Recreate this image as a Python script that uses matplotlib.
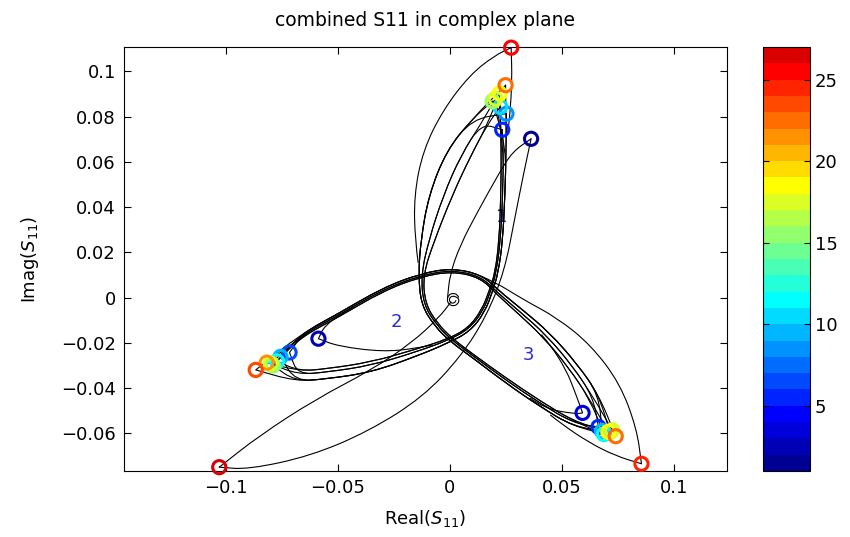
import numpy as np
import matplotlib
matplotlib.use("Agg")
import matplotlib.pyplot as plt
from matplotlib.path import Path
from matplotlib.patches import PathPatch
from matplotlib.colors import Normalize, ListedColormap
from matplotlib.cm import ScalarMappable
from matplotlib.ticker import FuncFormatter

plt.rcParams['font.family'] = 'DejaVu Sans'
plt.rcParams['font.size'] = 13
plt.rcParams['mathtext.fontset'] = 'dejavusans'

# ---- marker circles at the three resonance tips (index k = colour) ----
k1 = [1, 5, 8, 10, 15, 17, 18, 22, 25]
k2 = [2, 6, 9, 11, 15, 17, 21, 23, 26]
k3 = [3, 5, 9, 11, 15, 17, 18, 22, 24]
tip1 = [0.0363+0.0702j, 0.0234+0.0742j, 0.0253+0.0813j, 0.0225+0.0843j, 0.0191+0.0868j,
        0.0204+0.0880j, 0.0222+0.0902j, 0.0249+0.0939j, 0.0274+0.1105j]
tip2 = [-0.0587-0.0182j, -0.0716-0.0243j, -0.0756-0.0262j, -0.0772-0.0282j, -0.0790-0.0300j,
        -0.0800-0.0292j, -0.0818-0.0288j, -0.0867-0.0320j, -0.1030-0.0750j]
tip3 = [0.0593-0.0510j, 0.0664-0.0572j, 0.0680-0.0590j, 0.0689-0.0604j, 0.0715-0.0595j,
        0.0726-0.0587j, 0.0708-0.0594j, 0.0741-0.0613j, 0.0856-0.0735j]

# ---- S11 trajectory samples between the tips (three strands of the bundle) ----
seg12_a = [0.0240+0.066j, 0.0236+0.045j, 0.0226+0.025j, 0.0207+0.011j, 0.0183+0.003j,
           0.0148-0.006j, 0.0085-0.0140j, -0.0010-0.0190j, -0.015-0.0240j,
           -0.035-0.0300j, -0.055-0.0330j, -0.068-0.0340j]
seg12_b = [0.0252+0.066j, 0.0246+0.045j, 0.0236+0.025j, 0.0216+0.011j, 0.0192+0.003j,
           0.0156-0.0065j, 0.0090-0.0150j, -0.0010-0.0202j, -0.015-0.0260j,
           -0.035-0.0330j, -0.055-0.0360j, -0.069-0.0370j]
seg12_c = [0.0230+0.066j, 0.0228+0.045j, 0.0220+0.025j, 0.0202+0.011j, 0.0178+0.0035j,
           0.0143-0.0055j, 0.0082-0.0135j, -0.0010-0.0184j, -0.015-0.0228j,
           -0.035-0.0285j, -0.055-0.0315j, -0.067-0.0325j]
seg23_a = [-0.066-0.0165j, -0.050-0.0080j, -0.030+0.0035j, -0.013+0.0098j, 0.001+0.0122j,
           0.014+0.0093j, 0.0215+0.0020j, 0.031-0.0060j, 0.043-0.0165j, 0.055-0.0305j,
           0.064-0.0440j]
seg23_b = [-0.066-0.0158j, -0.050-0.0072j, -0.030+0.0043j, -0.013+0.0106j, 0.001+0.0130j,
           0.0145+0.0100j, 0.0222+0.0028j, 0.0322-0.0052j, 0.0445-0.0155j, 0.0570-0.0295j,
           0.0665-0.0430j]
seg23_c = [-0.066-0.0172j, -0.050-0.0088j, -0.030+0.0028j, -0.013+0.0092j, 0.001+0.0116j,
           0.0137+0.0088j, 0.0210+0.0014j, 0.0302-0.0068j, 0.0418-0.0175j, 0.0535-0.0315j,
           0.0625-0.0450j]
seg31_a = [0.055-0.0555j, 0.040-0.0465j, 0.025-0.0365j, 0.010-0.0255j, 0.0005-0.0185j,
           -0.0060-0.0120j, -0.0118-0.0030j, -0.0128+0.0100j, -0.0095+0.0250j,
           -0.0030+0.0450j, 0.0050+0.0630j, 0.0140+0.0770j]
seg31_b = [0.055-0.0570j, 0.040-0.0480j, 0.025-0.0378j, 0.010-0.0265j, 0.0000-0.0193j,
           -0.0068-0.0126j, -0.0128-0.0032j, -0.0140+0.0100j, -0.0130+0.0250j,
           -0.0095+0.0450j, -0.0015+0.0650j, 0.0100+0.0790j]
seg31_c = [0.055-0.0545j, 0.040-0.0455j, 0.025-0.0355j, 0.010-0.0248j, 0.0010-0.0180j,
           -0.0055-0.0115j, -0.0110-0.0028j, -0.0120+0.0100j, -0.0070+0.0250j,
           0.0010+0.0450j, 0.0090+0.0620j, 0.0165+0.0760j]
strand = ['a', 'b', 'c', 'b', 'a', 'c', 'b']   # bundle curves, circles 2..8

# single traces that leave the bundle
spiral = [0.0043-0.0009j, 0.0035+0.0012j, 0.0015+0.0020j, -0.0005+0.0012j, -0.0013-0.0009j,
          -0.0005-0.0030j, 0.0015-0.0038j, 0.0035-0.0030j, 0.0043-0.0009j, 0.0030+0.0002j,
          0.0015+0.0007j, 0.0002+0.0002j, -0.0003-0.0009j, 0.0002-0.0022j, 0.0015-0.0026j,
          0.0026-0.0018j, 0.0028-0.0009j]
navy_stem = [-0.0010+0.0000j, -0.0010+0.0000j, 0.0000+0.0100j, 0.0045+0.0230j, 0.0130+0.0390j,
             0.0220+0.0550j, 0.0280+0.0645j, 0.0363+0.0702j, 0.0363+0.0702j]
long_arc = [0.0363+0.0702j, 0.0363+0.0702j, 0.0330+0.0550j, 0.0290+0.0350j, 0.0245+0.0120j,
            0.0165-0.0080j, 0.0050-0.0260j, -0.0120-0.0440j, -0.0360-0.0590j,
            -0.0620-0.0700j, -0.0900-0.0760j, -0.1030-0.0750j, -0.1030-0.0750j]
red_stem = [-0.1030-0.0750j, -0.1030-0.0750j, -0.0850-0.0610j, -0.0600-0.0450j, -0.0350-0.0320j,
            -0.0170-0.0200j, -0.0050-0.0090j, 0.0005-0.0020j, 0.0005-0.0020j]
red_lobe1 = [-0.0128+0.0060j, -0.0155+0.0250j, -0.0160+0.0450j, -0.0120+0.0650j,
             -0.0030+0.0830j, 0.0090+0.0985j, 0.0200+0.1070j, 0.0274+0.1105j, 0.0274+0.1105j,
             0.0278+0.0960j, 0.0268+0.0800j, 0.0250+0.0650j]
red_lobe3 = [0.0080+0.0118j, 0.0200+0.0070j, 0.0330-0.0010j, 0.0480-0.0090j, 0.0630-0.0210j,
             0.0760-0.0380j, 0.0835-0.0580j, 0.0856-0.0735j, 0.0856-0.0735j, 0.0740-0.0700j,
             0.0620-0.0640j, 0.0500-0.0560j, 0.0400-0.0480j]
navy_lobe2 = [-0.0010-0.0195j, -0.0150-0.0225j, -0.0300-0.0240j, -0.0500-0.0215j,
              -0.0587-0.0182j, -0.0587-0.0182j, -0.0560-0.0125j, -0.0480-0.0070j,
              -0.0380-0.0010j]
navy_lobe3 = [0.0300-0.0400j, 0.0420-0.0490j, 0.0560-0.0515j, 0.0593-0.0510j, 0.0593-0.0510j,
              0.0560-0.0420j, 0.0520-0.0320j, 0.0450-0.0210j, 0.0370-0.0120j]


def matlab_jet(m):
    # same construction as MATLAB's jet(m)
    n = int(np.ceil(m / 4))
    u = np.concatenate([np.arange(1, n + 1) / n, np.ones(n - 1), np.arange(n, 0, -1) / n])
    g = int(np.ceil(n / 2)) - (1 if m % 4 == 1 else 0) + np.arange(1, len(u) + 1)
    rgb = np.zeros((m, 3))
    for ch, idx in enumerate([g + n, g, g - n]):
        ok = (idx >= 1) & (idx <= m)
        rgb[idx[ok] - 1, ch] = u[ok]
    return ListedColormap(rgb)


def smooth_path(pts):
    # quadratic spline with the samples as control polygon
    pts = np.asarray(pts)
    xy = np.column_stack([pts.real, pts.imag])
    mids = (xy[:-1] + xy[1:]) / 2
    verts = [mids[0]]
    codes = [Path.MOVETO]
    for i in range(1, len(xy) - 1):
        verts += [xy[i], mids[i]]
        codes += [Path.CURVE3, Path.CURVE3]
    return Path(verts, codes)


def draw_trace(ax, pts, lw=0.8):
    ax.add_patch(PathPatch(smooth_path(pts), fill=False, edgecolor='black',
                           lw=lw, zorder=2, capstyle='round', joinstyle='round'))


fig = plt.figure(figsize=(8.5, 5.37), dpi=100)
ax = fig.add_axes([0.146, 0.1229, 0.709, 0.7896])

segs = {'a': (seg12_a, seg23_a, seg31_a), 'b': (seg12_b, seg23_b, seg31_b),
        'c': (seg12_c, seg23_c, seg31_c)}
for i, side in enumerate(strand):
    t1, t2, t3 = tip1[i + 1], tip2[i + 1], tip3[i + 1]
    s12, s23, s31 = segs[side]
    loop = [t1, t1] + s12 + [t2, t2] + s23 + [t3, t3] + s31 + [t1, t1]
    draw_trace(ax, loop)

for trace in [spiral, navy_stem, long_arc, red_stem, red_lobe1, red_lobe3,
              navy_lobe2, navy_lobe3]:
    draw_trace(ax, trace)

cmap = matlab_jet(26)
norm = Normalize(1, 27)
for tips, ks in ((tip1, k1), (tip2, k2), (tip3, k3)):
    tips = np.array(tips)
    cols = cmap(np.array(ks) - 1)
    ax.scatter(tips.real, tips.imag, s=90, facecolors='none', edgecolors=cols,
               linewidths=2.2, zorder=3, clip_on=False)

lobe_color = '#2a2ad0'
ax.text(0.0232, 0.0356, '1', color='#1a1a90', fontsize=13, ha='center', va='center', zorder=1)
ax.text(-0.0240, -0.0107, '2', color=lobe_color, fontsize=13, ha='center', va='center', zorder=1)
ax.text(0.0353, -0.0253, '3', color=lobe_color, fontsize=13, ha='center', va='center', zorder=1)

ax.set_xlim(-0.1455, 0.1237)
ax.set_ylim(-0.0767, 0.1108)
ax.set_xticks([-0.1, -0.05, 0, 0.05, 0.1])
ax.set_yticks([-0.06, -0.04, -0.02, 0, 0.02, 0.04, 0.06, 0.08, 0.1])
fmt = FuncFormatter(lambda v, p: ('%g' % round(v, 4)).replace('-', '\u2212'))
ax.xaxis.set_major_formatter(fmt)
ax.yaxis.set_major_formatter(fmt)
ax.tick_params(direction='in', top=True, right=True, length=5, width=0.8, labelsize=13, pad=6)
for sp in ax.spines.values():
    sp.set_linewidth(0.8)

ax.set_title('combined S11 in complex plane', fontsize=13.5, pad=15)
ax.set_xlabel('Real($S_{11}$)', fontsize=13, labelpad=8)
ax.set_ylabel('Imag($S_{11}$)', fontsize=13, labelpad=14)

cax = fig.add_axes([0.8976, 0.1229, 0.0553, 0.7896])
cb = fig.colorbar(ScalarMappable(norm=norm, cmap=cmap), cax=cax, ticks=[5, 10, 15, 20, 25])
cb.outline.set_linewidth(0.8)
cax.tick_params(direction='in', left=True, right=True, length=4, width=0.8, labelsize=13)

fig.savefig('out.png', dpi=100)
